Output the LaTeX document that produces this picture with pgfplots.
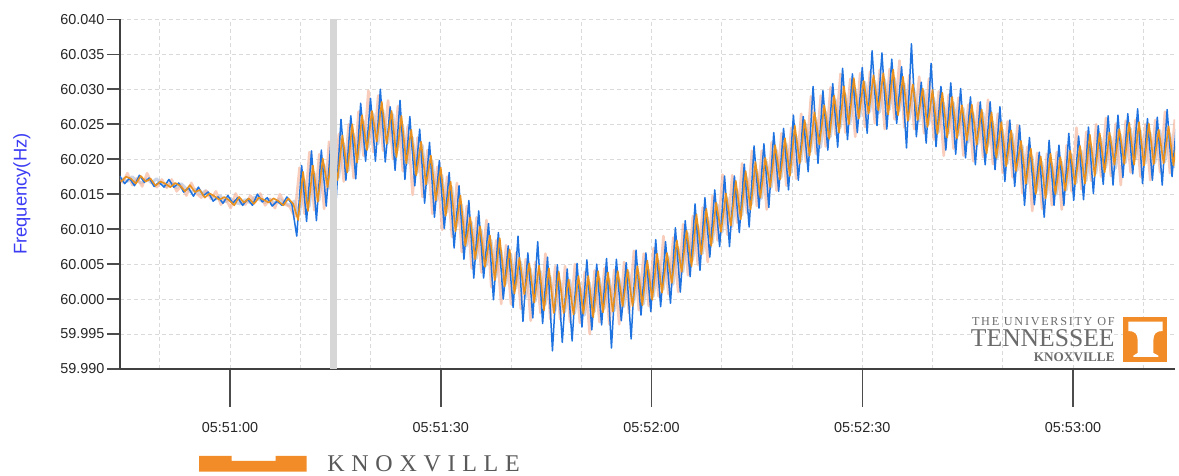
\documentclass[border=0pt]{standalone}
\usepackage{pgfplots}
\pgfplotsset{compat=1.18}
\usepackage{pgfplotstable}
\usepackage{fontspec}
\setmainfont{Liberation Sans}
\newfontfamily\logosmall[LetterSpace=14]{Liberation Serif}
\newfontfamily\logobig{Liberation Serif}
\newfontfamily\knoxfont[LetterSpace=28]{Liberation Serif}
\definecolor{fblue}{RGB}{30,115,225}
\definecolor{forange}{RGB}{232,145,30}
\definecolor{fpeach}{RGB}{244,178,150}
\definecolor{fgray}{RGB}{150,170,205}
\definecolor{gridc}{RGB}{218,218,218}
\definecolor{utorange}{RGB}{242,140,40}
\definecolor{labblue}{RGB}{60,60,245}
\definecolor{bandc}{RGB}{214,214,214}

\pgfplotstableread{
t b o p g
44.3 60.0176 60.0168 60.0177 60.0173
45.0 60.0165 60.0175 60.0167 60.0168
45.7 60.0173 60.0172 60.0180 60.0175
46.4 60.0162 60.0165 60.0163 60.0169
47.1 60.0177 60.0176 60.0173 60.0166
47.8 60.0167 60.0168 60.0161 60.0172
48.5 60.0173 60.0172 60.0180 60.0166
49.2 60.0161 60.0162 60.0166 60.0172
49.9 60.0167 60.0168 60.0160 60.0165
50.6 60.0160 60.0165 60.0171 60.0161
51.3 60.0171 60.0160 60.0159 60.0165
52.0 60.0160 60.0166 60.0171 60.0159
52.7 60.0166 60.0162 60.0154 60.0165
53.4 60.0153 60.0154 60.0162 60.0158
54.1 60.0159 60.0163 60.0148 60.0153
54.8 60.0147 60.0153 60.0166 60.0157
55.5 60.0160 60.0156 60.0151 60.0150
56.2 60.0148 60.0145 60.0145 60.0155
56.9 60.0153 60.0151 60.0155 60.0148
57.6 60.0140 60.0147 60.0143 60.0143
58.3 60.0146 60.0142 60.0154 60.0147
59.0 60.0137 60.0146 60.0135 60.0139
59.7 60.0148 60.0141 60.0143 60.0144
60.4 60.0137 60.0134 60.0130 60.0138
61.1 60.0145 60.0146 60.0151 60.0136
61.8 60.0134 60.0138 60.0138 60.0142
62.5 60.0143 60.0144 60.0135 60.0138
63.2 60.0134 60.0136 60.0148 60.0146
63.9 60.0150 60.0145 60.0139 60.0142
64.6 60.0139 60.0142 60.0151 60.0138
65.3 60.0145 60.0138 60.0134 60.0143
66.0 60.0133 60.0144 60.0143 60.0137
66.7 60.0140 60.0140 60.0130 60.0143
67.4 60.0134 60.0134 60.0150 60.0138
68.1 60.0146 60.0144 60.0136 60.0134
68.8 60.0136 60.0136 60.0132 60.0140
69.5 60.0090 60.0113 60.0118 60.0120
70.2 60.0191 60.0182 60.0188 60.0170
70.9 60.0111 60.0126 60.0122 60.0132
71.6 60.0212 60.0191 60.0210 60.0181
72.3 60.0112 60.0139 60.0127 60.0141
73.0 60.0213 60.0201 60.0207 60.0193
73.7 60.0133 60.0160 60.0129 60.0158
74.4 60.0231 60.0215 60.0225 60.0212
75.1 60.0141 60.0170 60.0152 60.0174
75.8 60.0257 60.0234 60.0236 60.0223
76.5 60.0170 60.0181 60.0168 60.0184
77.2 60.0262 60.0250 60.0250 60.0236
77.9 60.0172 60.0195 60.0173 60.0201
78.6 60.0280 60.0263 60.0268 60.0255
79.3 60.0197 60.0213 60.0205 60.0217
80.0 60.0287 60.0269 60.0298 60.0265
80.7 60.0197 60.0225 60.0210 60.0222
81.4 60.0300 60.0282 60.0291 60.0270
82.1 60.0196 60.0222 60.0212 60.0223
82.8 60.0275 60.0269 60.0284 60.0264
83.5 60.0184 60.0203 60.0200 60.0213
84.2 60.0284 60.0262 60.0276 60.0249
84.9 60.0171 60.0194 60.0183 60.0194
85.6 60.0261 60.0242 60.0247 60.0231
86.3 60.0162 60.0177 60.0149 60.0181
87.0 60.0243 60.0225 60.0231 60.0220
87.7 60.0137 60.0164 60.0146 60.0165
88.4 60.0224 60.0205 60.0213 60.0198
89.1 60.0117 60.0141 60.0122 60.0141
89.8 60.0198 60.0188 60.0189 60.0177
90.5 60.0101 60.0119 60.0099 60.0124
91.2 60.0181 60.0168 60.0175 60.0160
91.9 60.0073 60.0097 60.0089 60.0104
92.6 60.0162 60.0148 60.0166 60.0135
93.3 60.0057 60.0076 60.0067 60.0076
94.0 60.0141 60.0117 60.0133 60.0110
94.7 60.0030 60.0057 60.0044 60.0058
95.4 60.0126 60.0104 60.0117 60.0099
96.1 60.0030 60.0046 60.0038 60.0048
96.8 60.0108 60.0091 60.0113 60.0084
97.5 59.9999 60.0027 60.0017 60.0031
98.2 60.0095 60.0087 60.0084 60.0070
98.9 60.0000 60.0018 59.9993 60.0022
99.6 60.0076 60.0071 60.0077 60.0064
100.3 59.9988 60.0008 59.9993 60.0015
101.0 60.0090 60.0059 60.0066 60.0053
101.7 59.9968 60.0007 59.9986 60.0002
102.4 60.0066 60.0051 60.0057 60.0043
103.1 59.9973 59.9995 59.9969 59.9997
103.8 60.0082 60.0048 60.0053 60.0040
104.5 59.9965 59.9984 59.9980 59.9992
105.2 60.0060 60.0044 60.0065 60.0032
105.9 59.9926 59.9980 59.9971 59.9983
106.6 60.0049 60.0039 60.0047 60.0026
107.3 59.9938 59.9980 59.9971 59.9982
108.0 60.0043 60.0028 60.0047 60.0027
108.7 59.9940 59.9978 59.9967 59.9980
109.4 60.0051 60.0033 60.0050 60.0023
110.1 59.9960 59.9979 59.9966 59.9977
110.8 60.0056 60.0033 60.0039 60.0023
111.5 59.9956 59.9974 59.9950 59.9982
112.2 60.0050 60.0040 60.0041 60.0030
112.9 59.9963 59.9981 59.9967 59.9986
113.6 60.0058 60.0038 60.0044 60.0029
114.3 59.9930 59.9982 59.9964 59.9983
115.0 60.0057 60.0040 60.0042 60.0030
115.7 59.9969 59.9990 59.9964 59.9989
116.4 60.0052 60.0042 60.0053 60.0038
117.1 59.9943 59.9990 59.9980 59.9995
117.8 60.0070 60.0047 60.0069 60.0038
118.5 59.9977 59.9991 59.9984 59.9993
119.2 60.0066 60.0055 60.0065 60.0042
119.9 59.9982 59.9999 59.9990 60.0004
120.6 60.0085 60.0065 60.0073 60.0055
121.3 59.9989 60.0009 60.0004 60.0014
122.0 60.0082 60.0066 60.0090 60.0061
122.7 59.9994 60.0023 60.0007 60.0021
123.4 60.0102 60.0084 60.0088 60.0074
124.1 60.0010 60.0039 60.0010 60.0039
124.8 60.0112 60.0098 60.0107 60.0094
125.5 60.0032 60.0047 60.0034 60.0056
126.2 60.0136 60.0121 60.0119 60.0106
126.9 60.0041 60.0064 60.0049 60.0065
127.6 60.0145 60.0129 60.0131 60.0117
128.3 60.0060 60.0076 60.0053 60.0081
129.0 60.0156 60.0138 60.0148 60.0135
129.7 60.0075 60.0096 60.0084 60.0096
130.4 60.0176 60.0151 60.0178 60.0145
131.1 60.0075 60.0105 60.0092 60.0104
131.8 60.0176 60.0169 60.0177 60.0156
132.5 60.0095 60.0114 60.0109 60.0120
133.2 60.0193 60.0183 60.0194 60.0174
133.9 60.0103 60.0128 60.0123 60.0136
134.6 60.0219 60.0196 60.0212 60.0185
135.3 60.0130 60.0145 60.0133 60.0144
136.0 60.0222 60.0202 60.0212 60.0196
136.7 60.0131 60.0160 60.0128 60.0160
137.4 60.0238 60.0220 60.0224 60.0213
138.1 60.0154 60.0171 60.0155 60.0174
138.8 60.0244 60.0230 60.0237 60.0222
139.5 60.0156 60.0176 60.0162 60.0181
140.2 60.0263 60.0248 60.0245 60.0233
140.9 60.0170 60.0194 60.0172 60.0197
141.6 60.0261 60.0256 60.0265 60.0250
142.3 60.0182 60.0205 60.0196 60.0211
143.0 60.0304 60.0267 60.0290 60.0259
143.7 60.0194 60.0221 60.0208 60.0217
144.4 60.0298 60.0277 60.0291 60.0268
145.1 60.0213 60.0229 60.0218 60.0232
145.8 60.0308 60.0291 60.0303 60.0285
146.5 60.0217 60.0238 60.0235 60.0245
147.2 60.0330 60.0304 60.0322 60.0293
147.9 60.0228 60.0250 60.0238 60.0252
148.6 60.0322 60.0316 60.0315 60.0301
149.3 60.0238 60.0258 60.0232 60.0261
150.0 60.0331 60.0312 60.0323 60.0310
150.7 60.0237 60.0265 60.0246 60.0268
151.4 60.0355 60.0320 60.0325 60.0312
152.1 60.0248 60.0270 60.0251 60.0267
152.8 60.0352 60.0323 60.0328 60.0314
153.5 60.0243 60.0264 60.0243 60.0271
154.2 60.0343 60.0328 60.0329 60.0316
154.9 60.0251 60.0263 60.0257 60.0269
155.6 60.0332 60.0318 60.0341 60.0308
156.3 60.0216 60.0255 60.0245 60.0257
157.0 60.0365 60.0307 60.0320 60.0299
157.7 60.0232 60.0256 60.0243 60.0254
158.4 60.0310 60.0301 60.0318 60.0298
159.1 60.0223 60.0246 60.0237 60.0250
159.8 60.0337 60.0299 60.0315 60.0288
160.5 60.0218 60.0236 60.0228 60.0239
161.2 60.0304 60.0295 60.0297 60.0281
161.9 60.0213 60.0231 60.0205 60.0237
162.6 60.0309 60.0289 60.0292 60.0281
163.3 60.0207 60.0230 60.0215 60.0234
164.0 60.0301 60.0277 60.0288 60.0273
164.7 60.0202 60.0227 60.0205 60.0224
165.4 60.0289 60.0278 60.0278 60.0266
166.1 60.0192 60.0221 60.0197 60.0222
166.8 60.0282 60.0271 60.0281 60.0266
167.5 60.0192 60.0208 60.0203 60.0218
168.2 60.0282 60.0267 60.0285 60.0254
168.9 60.0185 60.0202 60.0193 60.0202
169.6 60.0275 60.0253 60.0265 60.0242
170.3 60.0168 60.0190 60.0180 60.0194
171.0 60.0256 60.0241 60.0254 60.0236
171.7 60.0161 60.0183 60.0174 60.0184
172.4 60.0248 60.0226 60.0248 60.0219
173.1 60.0134 60.0165 60.0151 60.0165
173.8 60.0231 60.0215 60.0218 60.0204
174.5 60.0135 60.0150 60.0126 60.0155
175.2 60.0210 60.0204 60.0209 60.0196
175.9 60.0117 60.0144 60.0129 60.0151
176.6 60.0227 60.0208 60.0208 60.0195
177.3 60.0134 60.0150 60.0134 60.0150
178.0 60.0220 60.0203 60.0210 60.0196
178.7 60.0134 60.0155 60.0128 60.0156
179.4 60.0237 60.0212 60.0220 60.0207
180.1 60.0141 60.0164 60.0154 60.0166
180.8 60.0233 60.0219 60.0245 60.0212
181.5 60.0142 60.0165 60.0157 60.0169
182.2 60.0246 60.0235 60.0239 60.0218
182.9 60.0151 60.0176 60.0169 60.0180
183.6 60.0248 60.0237 60.0250 60.0230
184.3 60.0164 60.0181 60.0175 60.0188
185.0 60.0262 60.0238 60.0259 60.0232
185.7 60.0163 60.0192 60.0176 60.0187
186.4 60.0263 60.0243 60.0251 60.0235
187.1 60.0174 60.0193 60.0163 60.0195
187.8 60.0265 60.0252 60.0255 60.0244
188.5 60.0179 60.0192 60.0181 60.0200
189.2 60.0272 60.0253 60.0256 60.0241
189.9 60.0165 60.0191 60.0175 60.0194
190.6 60.0258 60.0251 60.0250 60.0238
191.3 60.0170 60.0193 60.0170 60.0195
192.0 60.0260 60.0242 60.0256 60.0241
192.7 60.0163 60.0194 60.0181 60.0196
193.4 60.0271 60.0247 60.0268 60.0237
194.1 60.0175 60.0191 60.0180 60.0189
194.8 60.0260 60.0244 60.0257 60.0234
}\freq

\begin{document}
\begin{tikzpicture}[x=1pt,y=1pt]
\useasboundingbox (0,0) rectangle (589.5,238);
\begin{axis}[
  at={(60pt,53.5pt)}, anchor=south west,
  scale only axis, width=527.5pt, height=174.85pt,
  xmin=44.34, xmax=194.52, ymin=59.99, ymax=60.04,
  axis x line*=bottom, axis y line*=left,
  axis line style={draw=black!75, line width=0.75pt},
  xtick={60,90,120,150,180},
  xticklabels={05:51:00,05:51:30,05:52:00,05:52:30,05:53:00},
  minor xtick={50,70,80,100,110,130,140,160,170,190},
  ytick={59.99,59.995,60,60.005,60.01,60.015,60.02,60.025,60.03,60.035,60.04},
  yticklabel style={/pgf/number format/.cd, fixed, fixed zerofill, precision=3},
  /pgf/number format/assume math mode=true,
  tick align=outside,
  xtick style={draw=black!70, line width=0.75pt, /pgfplots/major tick length=19pt},
  ytick style={draw=black!70, line width=0.75pt, /pgfplots/major tick length=6.5pt},
  xticklabel shift=19pt,
  minor tick length=0pt,
  grid=both,
  major grid style={draw=gridc, dash pattern=on 2pt off 1.5pt, line width=0.5pt},
  minor grid style={draw=gridc, dash pattern=on 2pt off 1.5pt, line width=0.5pt},
  tick label style={font=\fontsize{7.2}{8}\selectfont, text=black!85},
  ylabel={Frequency(Hz)},
  ylabel style={font=\fontsize{9.2}{10}\selectfont, text=labblue, at={(axis description cs:-0.093,0.5)}, anchor=center},
  clip=true,
]
\addplot[fgray, opacity=0.5, line width=1.5pt, line join=round] table[x expr=\thisrow{t}+0.35, y=g]{\freq};
\addplot[fpeach, opacity=0.65, line width=1.3pt, line join=round] table[x expr=\thisrow{t}-0.3, y=p]{\freq};
\addplot[fblue, line width=0.75pt, line join=round] table[x=t, y=b]{\freq};
\addplot[forange, line width=0.8pt, line join=round] table[x expr=\thisrow{t}+0.2, y=o]{\freq};
\fill[bandc] (axis cs:74.2,59.99) rectangle (axis cs:75.2,60.04);
\end{axis}
% UT logo
\fill[utorange] (561.5,57) rectangle (583.5,79.5);
\fill[white] (564.2,77.15) -- (581.3,77.15) -- (581.3,72.5) .. controls (578,72.5) and (576.7,71) .. (576.7,68) -- (576.7,61.5) -- (579.2,60.2) -- (579.2,59.6) -- (566.7,59.6) -- (566.7,60.2) -- (568.8,61.5) -- (568.8,68) .. controls (568.8,71) and (567.5,72.5) .. (564.2,72.5) -- cycle;
\node[anchor=east, inner sep=0, text=black!58] at (557.5,77) {\logosmall\fontsize{6.1}{7}\selectfont THE UNIVERSITY OF};
\node[anchor=east, inner sep=0, text=black!58] at (557.5,69) {\logobig\fontsize{12.8}{13}\selectfont TENNESSEE};
\node[anchor=east, inner sep=0, text=black!58] at (557.5,59.5) {\logobig\bfseries\fontsize{6.6}{7}\selectfont KNOXVILLE};
% bottom logo
\fill[utorange] (99.5,2.15) -- (153.3,2.15) -- (153.3,10) -- (137.8,10) -- (137.8,7.5) -- (115.8,7.5) -- (115.8,10) -- (99.5,10) -- cycle;
\node[anchor=west, inner sep=0, text=black!65] at (163.5,6) {\knoxfont\fontsize{12}{13}\selectfont KNOXVILLE};
\end{tikzpicture}
\end{document}
